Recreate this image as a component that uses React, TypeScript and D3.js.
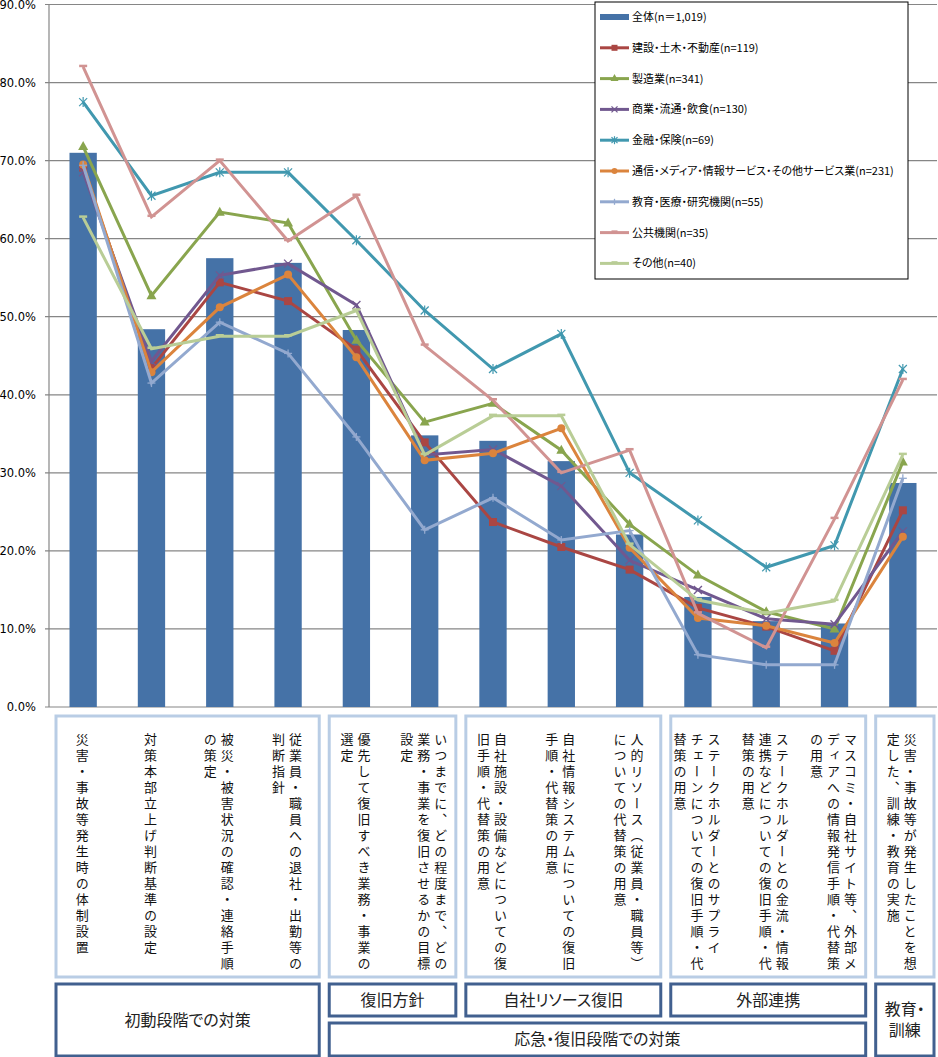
import React from 'react';
import * as d3 from 'd3';

const W = 938;
const H = 1057;

// Category labels, split into vertical columns (right-to-left reading order)
const categoryColumns: string[][] = [
  ['災害・事故等発生時の体制設置'],
  ['対策本部立上げ判断基準の設定'],
  ['被災・被害状況の確認・連絡手順', 'の策定'],
  ['従業員・職員への退社・出勤等の', '判断指針'],
  ['優先して復旧すべき業務・事業の', '選定'],
  ['いつまでに、どの程度まで、どの', '業務・事業を復旧させるかの目標', '設定'],
  ['自社施設・設備などについての復', '旧手順・代替策の用意'],
  ['自社情報システムについての復旧', '手順・代替策の用意'],
  ['人的リソース（従業員・職員等）', 'についての代替策の用意'],
  ['ステークホルダーとのサプライ', 'チェーンについての復旧手順・代', '替策の用意'],
  ['ステークホルダーとの金流・情報', '連携などについての復旧手順・代', '替策の用意'],
  ['マスコミ・自社サイト等、外部メ', 'ディアへの情報発信手順・代替策', 'の用意'],
  ['災害・事故等が発生したことを想', '定した、訓練・教育の実施'],
];
const categories = categoryColumns.map((c) => c.join(''));

const yTicks = [0, 10, 20, 30, 40, 50, 60, 70, 80, 90];

// Percent values per category
const overall = [71.0, 48.4, 57.5, 56.9, 48.3, 34.8, 34.1, 31.5, 22.1, 14.1, 11.0, 10.7, 28.7];
const construction = [69.1, 43.4, 54.4, 52.0, 45.8, 33.9, 23.7, 20.5, 17.6, 12.7, 10.3, 7.2, 25.2];
const manufacturing = [71.8, 52.7, 63.4, 62.0, 47.0, 36.5, 38.9, 32.9, 23.4, 16.9, 12.2, 10.0, 31.4];
const commerce = [68.5, 44.3, 55.3, 56.8, 51.5, 32.3, 33.0, 28.3, 18.8, 15.0, 11.3, 10.6, 22.5];
const finance = [77.5, 65.5, 68.5, 68.5, 59.8, 50.8, 43.3, 47.8, 30.0, 23.9, 17.9, 20.7, 43.3];
const services = [69.5, 42.9, 51.2, 55.4, 44.8, 31.6, 32.5, 35.7, 20.4, 11.4, 10.4, 8.2, 21.8];
const education = [69.4, 41.5, 49.3, 45.3, 34.6, 22.7, 26.8, 21.4, 22.6, 6.7, 5.4, 5.4, 29.3];
const publicSector = [82.0, 62.8, 70.0, 59.7, 65.5, 46.3, 39.3, 30.0, 32.9, 12.0, 7.6, 24.1, 41.9];
const others = [62.7, 45.9, 47.5, 47.5, 50.8, 32.3, 37.3, 37.3, 20.8, 13.7, 12.0, 13.6, 32.3];

const barName = '全体(n＝1,019)';

type Marker = 'square' | 'triangle' | 'x' | 'star' | 'circle' | 'plus' | 'dash';
const lineSeries: { name: string; values: number[]; color: string; marker: Marker }[] = [
  { name: '建設・土木・不動産(n=119)', values: construction, color: '#AA4643', marker: 'square' },
  { name: '製造業(n=341)', values: manufacturing, color: '#89A54E', marker: 'triangle' },
  { name: '商業・流通・飲食(n=130)', values: commerce, color: '#71588F', marker: 'x' },
  { name: '金融・保険(n=69)', values: finance, color: '#4198AF', marker: 'star' },
  { name: '通信・メディア・情報サービス・その他サービス業(n=231)', values: services, color: '#DB843D', marker: 'circle' },
  { name: '教育・医療・研究機関(n=55)', values: education, color: '#93A9CF', marker: 'plus' },
  { name: '公共機関(n=35)', values: publicSector, color: '#D19392', marker: 'dash' },
  { name: 'その他(n=40)', values: others, color: '#B9CD96', marker: 'dash' },
];

// Stage groupings of the categories (index ranges)
const stageGroups = [
  { label: ['初動段階での対策'], from: 0, to: 3, tall: true },
  { label: ['復旧方針'], from: 4, to: 5, tall: false },
  { label: ['自社リソース復旧'], from: 6, to: 8, tall: false },
  { label: ['外部連携'], from: 9, to: 11, tall: false },
  { label: ['教育・', '訓練'], from: 12, to: 12, tall: true },
];
const phaseGroup = { label: '応急・復旧段階での対策', from: 4, to: 11 };

const BAR_COLOR = '#4572A7';
const GRID = '#868686';
const JP = '"Noto Sans CJK JP", "Noto Sans", sans-serif';

function MarkerShape({ type, x, y, color, s = 1 }: { type: Marker; x: number; y: number; color: string; s?: number }) {
  const r = 4 * s;
  switch (type) {
    case 'square':
      return <rect x={x - r} y={y - r} width={2 * r} height={2 * r} fill={color} />;
    case 'triangle':
      return <path d={`M${x},${y - r - 1.5}L${x + r + 1},${y + r - 0.5}L${x - r - 1},${y + r - 0.5}Z`} fill={color} />;
    case 'circle':
      return <circle cx={x} cy={y} r={r} fill={color} />;
    case 'x':
      return (
        <g stroke={color} strokeWidth={1.3}>
          <line x1={x - r} y1={y - r} x2={x + r} y2={y + r} />
          <line x1={x - r} y1={y + r} x2={x + r} y2={y - r} />
        </g>
      );
    case 'star':
      return (
        <g stroke={color} strokeWidth={1.2}>
          <line x1={x - r} y1={y - r} x2={x + r} y2={y + r} />
          <line x1={x - r} y1={y + r} x2={x + r} y2={y - r} />
          <line x1={x} y1={y - r - 1} x2={x} y2={y + r + 1} />
        </g>
      );
    case 'plus':
      return (
        <g stroke={color} strokeWidth={1.3}>
          <line x1={x - r} y1={y} x2={x + r} y2={y} />
          <line x1={x} y1={y - r} x2={x} y2={y + r} />
        </g>
      );
    case 'dash':
      return <line x1={x - r} y1={y - 1} x2={x + r} y2={y - 1} stroke={color} strokeWidth={2.5} />;
  }
}

export default function App() {
  const x = d3.scaleBand<string>().domain(categories).range([49, 937]).padding(0);
  const y = d3.scaleLinear().domain([0, 90]).range([707, 4.5]);
  const bw = x.bandwidth();
  const cx = (i: number) => (x(categories[i]) as number) + bw / 2;
  const barW = bw * 0.4;

  const line = d3
    .line<number>()
    .x((_, i) => cx(i))
    .y((d) => y(d));

  const bandStart = (i: number) => x(categories[i]) as number;
  const bandEnd = (i: number) => (x(categories[i]) as number) + bw;

  const boxTop = 716;
  const boxBottom = 977;
  const stageTop = 984;
  const stageMid = 1016;
  const phaseTop = 1023;
  const stageBottom = 1056;

  const legendX = 595;
  const legendY = 2;
  const rowH = 30.8;

  return (
    <svg width={W} height={H} style={{ position: 'absolute', left: 0, top: 0, background: '#fff' }}>
      {/* gridlines */}
      {yTicks.map((t) => (
        <g key={t}>
          <line x1={45} x2={937} y1={y(t)} y2={y(t)} stroke={GRID} strokeWidth={1.2} />
          <text x={36} y={y(t)} dy="0.36em" textAnchor="end" fontFamily='"DejaVu Sans", sans-serif' fontSize={11.5} fill="#000">
            {t.toFixed(1)}%
          </text>
        </g>
      ))}
      <line x1={49} x2={49} y1={y(90)} y2={y(0)} stroke={GRID} strokeWidth={1.2} />

      {/* bars: overall */}
      {overall.map((v, i) => (
        <rect key={i} x={cx(i) - barW / 2} y={y(v)} width={barW} height={y(0) - y(v)} fill={BAR_COLOR} />
      ))}

      {/* industry lines */}
      {lineSeries.map((s) => (
        <g key={s.name}>
          <path d={line(s.values) || ''} fill="none" stroke={s.color} strokeWidth={3} strokeLinejoin="miter" />
          {s.values.map((v, i) => (
            <MarkerShape key={i} type={s.marker} x={cx(i)} y={y(v)} color={s.color} />
          ))}
        </g>
      ))}

      {/* legend */}
      <rect x={legendX} y={legendY} width={313} height={277} fill="#fff" stroke="#000" strokeWidth={1} />
      <g fontFamily={JP} fontSize={11} style={{ fontFeatureSettings: '"palt"' }}>
        <rect x={600} y={legendY + 15 - 3} width={29} height={6} fill={BAR_COLOR} />
        <text x={632} y={legendY + 15} dy="0.36em" fill="#000">{barName}</text>
        {lineSeries.map((s, k) => {
          const ly = legendY + 15 + (k + 1) * rowH;
          return (
            <g key={s.name}>
              <line x1={600} x2={629} y1={ly} y2={ly} stroke={s.color} strokeWidth={3} />
              <MarkerShape type={s.marker} x={614.5} y={ly} color={s.color} s={0.75} />
              <text x={632} y={ly} dy="0.36em" fill="#000">{s.name}</text>
            </g>
          );
        })}
      </g>

      {/* category label boxes */}
      {stageGroups.map((g, gi) => (
        <rect
          key={gi}
          x={bandStart(g.from) + 7}
          y={boxTop}
          width={bandEnd(g.to) - bandStart(g.from) - 10}
          height={boxBottom - boxTop}
          fill="none"
          stroke="#B9CDE5"
          strokeWidth={3}
        />
      ))}

      {/* vertical category labels */}
      <g fontFamily={JP} fontSize={13} fill="#111">
        {categoryColumns.map((cols, i) => {
          const pitch = 17;
          const center = cx(i) - 1;
          const first = center + ((cols.length - 1) * pitch) / 2;
          return cols.map((c, k) => (
            <text
              key={`${i}-${k}`}
              x={first - k * pitch}
              y={733}
              style={{ writingMode: 'vertical-rl', letterSpacing: '3px' } as React.CSSProperties}
            >
              {c}
            </text>
          ));
        })}
      </g>

      {/* stage boxes */}
      <g fontFamily={JP} fontSize={16} fill="#222">
        {stageGroups.map((g, gi) => {
          const x0 = bandStart(g.from) + 7;
          const x1 = bandEnd(g.to) - 3;
          const y1 = g.tall ? stageBottom : stageMid;
          const my = (stageTop + y1) / 2;
          return (
            <g key={gi}>
              <rect x={x0} y={stageTop} width={x1 - x0} height={y1 - stageTop} fill="#fff" stroke="#41608F" strokeWidth={3} />
              {g.label.map((l, li) => (
                <text
                  key={li}
                  x={(x0 + x1) / 2}
                  y={my + (li - (g.label.length - 1) / 2) * 21}
                  dy="0.36em"
                  textAnchor="middle"
                  style={{ fontFeatureSettings: '"palt"' }}
                >
                  {l}
                </text>
              ))}
            </g>
          );
        })}
        {(() => {
          const x0 = bandStart(phaseGroup.from) + 7;
          const x1 = bandEnd(phaseGroup.to) - 3;
          return (
            <g>
              <rect x={x0} y={phaseTop} width={x1 - x0} height={stageBottom - phaseTop} fill="#fff" stroke="#41608F" strokeWidth={3} />
              <text x={(x0 + x1) / 2} y={(phaseTop + stageBottom) / 2} dy="0.36em" textAnchor="middle" style={{ fontFeatureSettings: '"palt"' }}>
                {phaseGroup.label}
              </text>
            </g>
          );
        })()}
      </g>
    </svg>
  );
}
